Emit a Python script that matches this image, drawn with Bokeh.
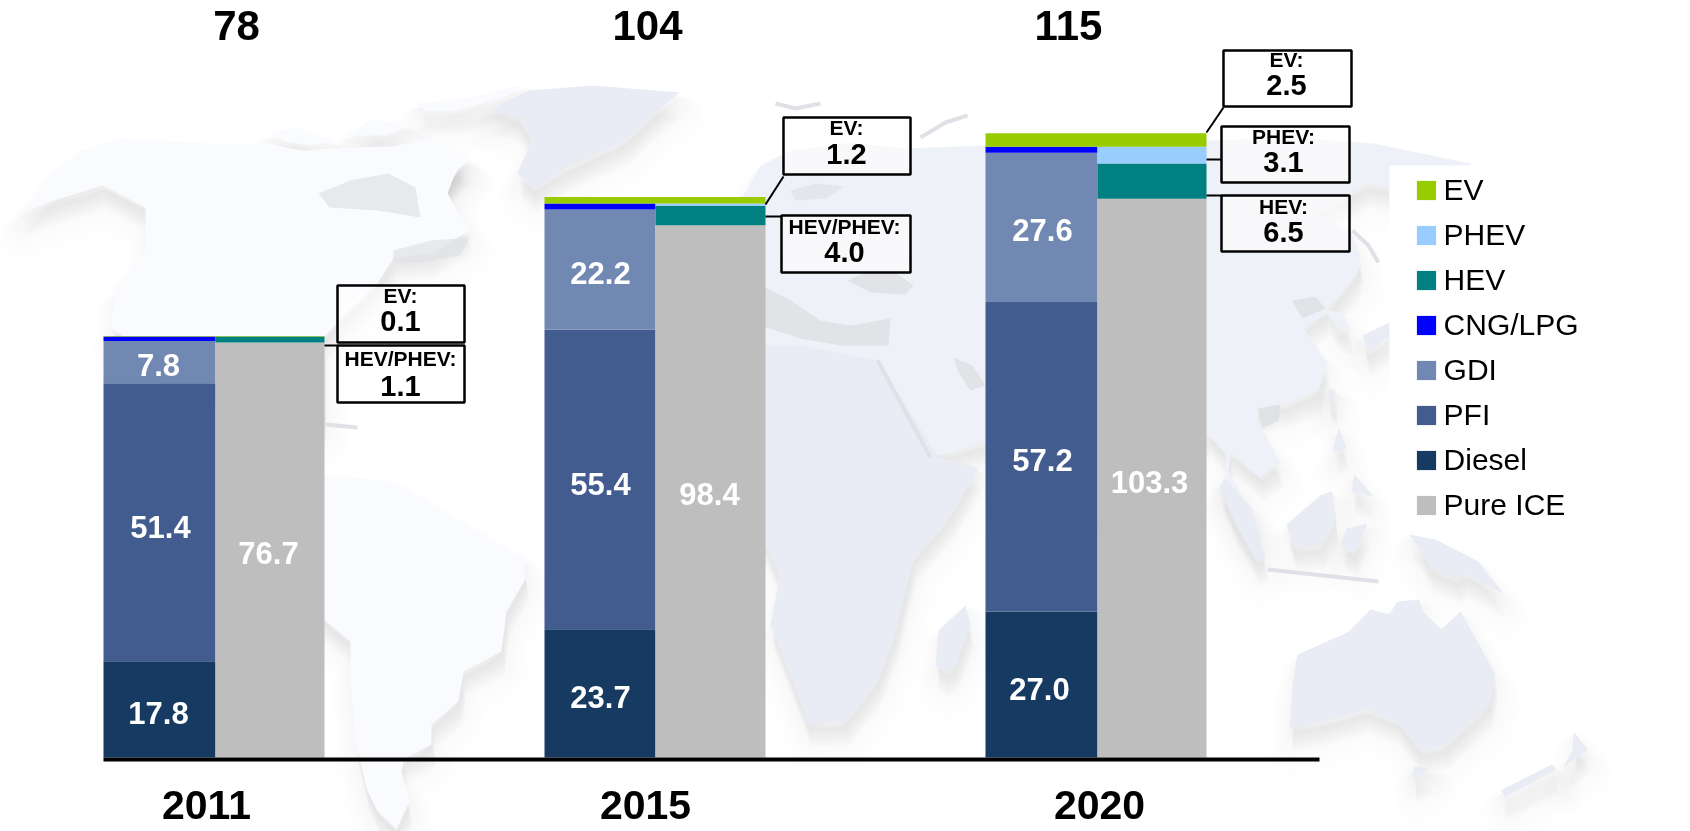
from bokeh.core.properties import value
from bokeh.embed import file_html
from bokeh.models import (ColumnDataSource, FixedTicker, Legend, LegendItem,
                          Range1d)
from bokeh.plotting import figure
from bokeh.resources import INLINE

# ---------- chart data (million vehicles) ----------
years = ["2011", "2015", "2020"]
totals = [78, 104, 115]
diesel = [17.8, 23.7, 27.0]
pfi = [51.4, 55.4, 57.2]
gdi = [7.8, 22.2, 27.6]
cng = [0.8, 1.1, 1.1]
pure_ice = [76.7, 98.4, 103.3]
hev = [1.1, 3.6, 6.5]
phev = [0.0, 0.4, 3.1]
ev = [0.1, 1.2, 2.5]

callout_names = ["EV:", "HEV/PHEV:", "EV:", "HEV/PHEV:", "EV:", "PHEV:", "HEV:"]
callout_values = [0.1, 1.1, 1.2, 4.0, 2.5, 3.1, 6.5]

# ---------- layout ----------
W, H = 1690, 831
BASE, PX_PER_UNIT = 757, 5.41
bar_left = [103, 544, 985]
bar_mid = [215, 655, 1097]
bar_right = [324, 765, 1206]
total_x = [236, 647, 1068]
year_x = [206, 645, 1099]

lab_x = {"diesel": [158, 600, 1039], "pfi": [160, 600, 1042], "gdi": [158, 600, 1042], "ice": [268, 709, 1149]}
lab_y = {"diesel": [712, 696, 688], "pfi": [526, 483, 459], "gdi": [364, 272, 229], "ice": [552, 493, 481]}

box_l = [337, 337, 783, 781, 1223, 1221, 1221]
box_r = [464, 464, 910, 910, 1351, 1349, 1349]
box_t = [285, 345, 117, 215, 50, 126, 195]
box_b = [342, 402, 174, 272, 106, 182, 251]
name_x = [400, 400, 846, 844, 1286, 1283, 1283]
name_y = [295, 358, 127, 226, 59, 136, 206]
val_y = [320, 385, 153, 251, 84, 161, 231]
conn_x0 = [324, 765, 765, 1206, 1206, 1206]
conn_y0 = [345, 204, 216, 132, 159, 195]
conn_x1 = [337, 783, 781, 1223, 1221, 1221]
conn_y1 = [345, 176, 216, 107, 159, 195]

C = {"EV": "#99CC00", "PHEV": "#99CCFF", "HEV": "#008080", "CNG/LPG": "#0000FF",
     "GDI": "#7189B2", "PFI": "#425C8F", "Diesel": "#163A62", "Pure ICE": "#BEBEBE"}
FONT = value("Liberation Sans")

# ---------- background world map outline (page pixels) ----------
north_america = [(19,213),(59,167),(81,150),(119,138),(216,143),(264,143),(302,150),(350,147),(393,146),(431,145),(463,160),(453,177),(447,193),(469,230),(431,253),(393,257),(377,283),(339,320),(323,337),(323,420),(260,400),(170,370),(110,327),(116,290),(145,250),(145,207),(102,185),(54,200)]
greenland = [(488,110),(528,90),(593,85),(679,92),(657,110),(625,140),(566,167),(533,188),(517,173),(531,140),(517,117)]
baffin = [(393,146),(431,138),(469,160),(447,177),(420,163)]
ellesmere = [(415,103),(470,97),(523,84),(505,96),(455,110),(425,110)]
arctic_w = [(269,133),(295,127),(334,141),(310,145),(285,141)]
arctic_m = [(345,135),(372,118),(410,125),(385,135)]
south_america = [(300,470),(323,474),(393,481),(442,511),(523,558),(525,578),(506,611),(501,651),(463,671),(458,701),(431,724),(431,744),(404,758),(401,771),(409,801),(396,829),(377,811),(366,788),(356,744),(350,678),(350,641),(323,619),(300,600)]
eurasia = [(743,195),(760,165),(790,150),(850,142),(905,148),(985,145),(1207,140),(1290,137),(1373,143),(1470,163),(1470,200),(1389,187),(1367,183),(1350,193),(1315,213),(1350,230),(1360,257),(1357,273),(1333,303),(1322,308),(1343,313),(1350,330),(1340,330),(1327,313),(1303,327),(1320,353),(1327,363),(1318,390),(1287,403),(1258,410),(1257,420),(1280,463),(1260,477),(1230,453),(1228,470),(1253,520),(1248,522),(1225,480),(1225,453),(1207,433),(1100,520),(986,441),(937,456),(877,360),(700,340),(700,250)]
africa = [(700,345),(800,345),(877,360),(937,456),(978,468),(948,518),(913,558),(894,638),(877,681),(845,721),(808,723),(797,694),(770,624),(779,578),(765,544),(700,520)]
madagascar = [(965,605),(970,625),(955,665),(945,672),(935,665),(938,630)]
sumatra = [(1224,478),(1251,508),(1265,558),(1256,561),(1235,524),(1219,488)]
borneo = [(1286,524),(1321,494),(1332,491),(1335,524),(1321,544),(1294,548)]
new_guinea = [(1408,534),(1435,539),(1478,561),(1503,593),(1465,574),(1457,579),(1430,568),(1419,548)]
sulawesi = [(1346,528),(1367,523),(1354,554),(1340,544)]
luzon = [(1338,428),(1346,448),(1332,451)]
mindanao = [(1354,474),(1373,496),(1351,491)]
japan = [(1389,322),(1362,335),(1368,352),(1389,335)]
taiwan = [(1328,388),(1335,390),(1333,403),(1328,400)]
australia = [(1297,654),(1349,631),(1370,609),(1389,614),(1397,601),(1419,599),(1422,611),(1441,629),(1460,611),(1495,674),(1489,704),(1446,744),(1419,751),(1397,721),(1365,709),(1322,721),(1289,728),(1292,684)]
tasmania = [(1413,766),(1430,768),(1413,778)]
nz_north = [(1573,731),(1587,749),(1562,768),(1572,750)]
nz_south = [(1551,764),(1556,769),(1505,796),(1500,790)]

land_pale = [north_america, south_america, baffin, ellesmere, arctic_w, arctic_m]
land_blue = [greenland, madagascar, sumatra, borneo, new_guinea, sulawesi, luzon, mindanao, japan, taiwan, australia, tasmania, nz_north, nz_south]
land_light = [eurasia]
land_africa = [africa]

sea_soft = [
    [(318,193),(350,180),(388,173),(415,187),(420,217),(377,210),(329,207)],
    [(393,250),(431,240),(469,237),(460,255),(420,262),(393,262)],
    [(790,190),(815,183),(843,186),(825,198),(795,200)],
]
sea_grey = [
    [(847,280),(870,270),(895,272),(913,285),(905,294),(870,292)],
    [(953,357),(972,365),(985,385),(970,390),(958,372)],
    [(760,285),(790,300),(820,320),(850,325),(890,318),(888,345),(840,345),(800,338),(760,325)],
    [(1291,300),(1315,296),(1325,308),(1302,318)],
    [(1257,408),(1280,404),(1278,420),(1262,428)],
]
streak_x = [[325,357],[877,930],[1267,1378],[920,945,967],[775,795,820],[1352,1368,1378]]
streak_y = [[424,427],[360,457],[569,581],[137,122,115],[103,108,103],[230,245,262]]


def xs(polys):
    return [[q[0] for q in poly] for poly in polys]


def ys(polys):
    return [[q[1] for q in poly] for poly in polys]


p = figure(width=W, height=H, output_backend="svg", toolbar_location=None,
           x_range=Range1d(0, W),
           y_range=Range1d((BASE - H) / PX_PER_UNIT, BASE / PX_PER_UNIT),
           y_axis_location=None, min_border=0,
           outline_line_color=None, background_fill_color="white", border_fill_color="white",
           styles={"position": "fixed", "left": "0px", "top": "0px"})
p.extra_y_ranges["px"] = Range1d(H, 0)
p.grid.visible = False

# soft shadows of the land masses: many faint layers fake the blur
all_land = land_pale + land_blue + land_light + land_africa
for dx, dy, lw in [(3, 24, 46), (3, 22, 38), (3, 20, 31), (2, 17, 25), (2, 15, 19), (2, 12, 14), (1, 9, 9), (1, 6, 5)]:
    p.patches([[a + dx for a in r] for r in xs(all_land)], [[b + dy for b in r] for r in ys(all_land)],
              y_range_name="px", fill_color="#8a8a8a", fill_alpha=0.014,
              line_color="#8a8a8a", line_alpha=0.012, line_width=lw, line_join="round")
p.patches(xs(land_pale), ys(land_pale), y_range_name="px", fill_color="#fafbfe", line_color=None)
p.patches(xs(land_light), ys(land_light), y_range_name="px", fill_color="#eff1f8", line_color=None)
p.patches(xs(land_africa), ys(land_africa), y_range_name="px", fill_color="#e9ecf5", line_color=None)
p.patches(xs(land_blue), ys(land_blue), y_range_name="px", fill_color="#e9ecf5", line_color=None)
p.patches(xs(sea_soft), ys(sea_soft), y_range_name="px", fill_color="#e0e1e5", fill_alpha=0.7, line_color=None)
p.patches(xs(sea_grey), ys(sea_grey), y_range_name="px", fill_color="#dcdde2", fill_alpha=0.75, line_color=None)
p.multi_line(streak_x, streak_y, y_range_name="px", line_color="#dfe1e7", line_width=4)

# white legend panel that covers the map
p.quad(left=[1389], right=[1610], top=[165], bottom=[525], y_range_name="px",
       fill_color="white", line_color=None)


# ---------- stacked bars ----------
def stack(values, base, lefts, rights, color):
    top = [b + v for b, v in zip(base, values)]
    src = ColumnDataSource(dict(left=lefts, right=rights, bottom=base, top=top))
    r = p.quad(left="left", right="right", bottom="bottom", top="top", source=src,
               fill_color=color, line_color=None)
    return r, top


zero = [0.0, 0.0, 0.0]
r_diesel, t = stack(diesel, zero, bar_left, bar_mid, C["Diesel"])
r_pfi, t = stack(pfi, t, bar_left, bar_mid, C["PFI"])
r_gdi, t = stack(gdi, t, bar_left, bar_mid, C["GDI"])
r_cng, t = stack(cng, t, bar_left, bar_mid, C["CNG/LPG"])
r_ice, t = stack(pure_ice, zero, bar_mid, bar_right, C["Pure ICE"])
r_hev, t = stack(hev, t, bar_mid, bar_right, C["HEV"])
r_phev, t = stack(phev, t, bar_mid, bar_right, C["PHEV"])
r_ev, t = stack(ev, t, bar_left, bar_right, C["EV"])

# ---------- value labels ----------
for key, vals in [("diesel", diesel), ("pfi", pfi), ("gdi", gdi), ("ice", pure_ice)]:
    p.text(lab_x[key], lab_y[key], text=[f"{v:.1f}" for v in vals], y_range_name="px",
           text_color="white", text_font=FONT, text_font_style="bold", text_font_size="31px",
           text_align="center", text_baseline="middle")
p.text(total_x, [25] * 3, text=[str(v) for v in totals], y_range_name="px", text_color="black",
       text_font=FONT, text_font_style="bold", text_font_size="42px",
       text_align="center", text_baseline="middle")

# ---------- callouts ----------
p.segment(conn_x0, conn_y0, conn_x1, conn_y1, y_range_name="px", line_color="black", line_width=2)
p.quad(left=box_l, right=box_r, top=box_t, bottom=box_b, y_range_name="px",
       fill_color="white", fill_alpha=0.6, line_color="black", line_width=2.5)
p.text(name_x, name_y, text=callout_names, y_range_name="px", text_color="black", text_font=FONT,
       text_font_style="bold", text_font_size="21px", text_align="center", text_baseline="middle")
p.text(name_x, val_y, text=[f"{v:.1f}" for v in callout_values], y_range_name="px", text_color="black",
       text_font=FONT, text_font_style="bold", text_font_size="29px", text_align="center", text_baseline="middle")

# ---------- x axis: baseline and years ----------
ax = p.xaxis[0]
ax.fixed_location = (BASE - 759) / PX_PER_UNIT
ax.bounds = (103, 1319)
ax.ticker = FixedTicker(ticks=year_x)
ax.major_label_overrides = {x: y for x, y in zip(year_x, years)}
ax.axis_line_color = "black"
ax.axis_line_width = 4
ax.major_tick_line_color = None
ax.minor_tick_line_color = None
ax.major_tick_in = 0
ax.major_tick_out = 0
ax.major_label_standoff = 31
ax.major_label_text_font = "Liberation Sans"
ax.major_label_text_font_style = "bold"
ax.major_label_text_font_size = "41px"
ax.major_label_text_color = "black"

# ---------- legend ----------
items = [("EV", r_ev), ("PHEV", r_phev), ("HEV", r_hev), ("CNG/LPG", r_cng),
         ("GDI", r_gdi), ("PFI", r_pfi), ("Diesel", r_diesel), ("Pure ICE", r_ice)]
legend = Legend(items=[LegendItem(label=n, renderers=[r]) for n, r in items],
                location=(1413.6, H - 522), orientation="vertical", padding=0, margin=0,
                spacing=11, glyph_width=24, glyph_height=24, label_standoff=6,
                label_text_font="Liberation Sans", label_text_font_size="30px",
                label_text_color="black", border_line_color=None, background_fill_alpha=0)
p.add_layout(legend, "center")

open("out.html", "w").write(file_html(p, INLINE))
